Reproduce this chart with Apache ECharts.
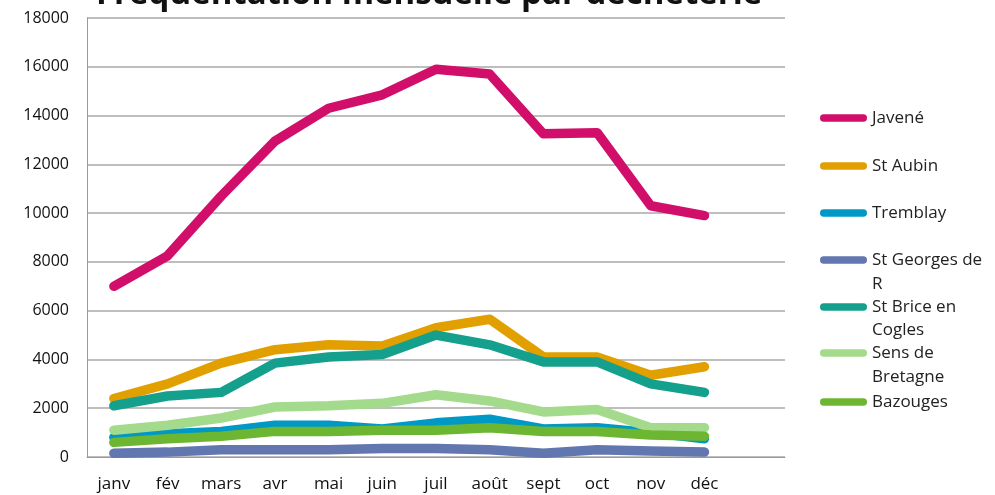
<!DOCTYPE html>
<html lang="fr" style="height: 100%">
<head>
  <meta charset="utf-8">
</head>
<body style="height: 100%; margin: 0; background: #fff">
  <div id="container" style="width: 995px; height: 495px"></div>

  <script type="text/javascript" src="https://cdn.jsdelivr.net/npm/echarts@6/dist/echarts.min.js"></script>
  <script type="text/javascript">
    // months (last empty slot keeps the plot area as wide as the original)
    var months = ['janv', 'fév', 'mars', 'avr', 'mai', 'juin', 'juil', 'août', 'sept', 'oct', 'nov', 'déc', ''];

    var javene     = [7000, 8250, 10700, 12950, 14300, 14850, 15900, 15700, 13250, 13300, 10300, 9900];
    var stAubin    = [2400, 3000, 3850, 4400, 4600, 4550, 5300, 5650, 4100, 4100, 3350, 3700];
    var tremblay   = [800, 950, 1050, 1300, 1300, 1150, 1400, 1550, 1150, 1200, 1000, 750];
    var stGeorges  = [150, 200, 300, 300, 300, 350, 350, 300, 150, 300, 250, 200];
    var stBrice    = [2100, 2500, 2650, 3850, 4100, 4200, 5000, 4600, 3900, 3900, 3000, 2650];
    var sensBret   = [1100, 1300, 1600, 2050, 2100, 2200, 2550, 2300, 1850, 1950, 1200, 1200];
    var bazouges   = [600, 750, 850, 1050, 1050, 1100, 1100, 1200, 1050, 1050, 900, 850];

    var names = ['Javené', 'St Aubin', 'Tremblay', 'St Georges de R', 'St Brice en Cogles', 'Sens de Bretagne', 'Bazouges'];
    var firstLine = ['Javené', 'St Aubin', 'Tremblay', 'St Georges de', 'St Brice en', 'Sens de', 'Bazouges'];
    var secondLine = ['', '', '', 'R', 'Cogles', 'Bretagne', ''];
    var colors = ['#D10F6A', '#E2A000', '#0098C5', '#6276AF', '#14A08C', '#A4DA8C', '#6CB631'];
    var values = [javene, stAubin, tremblay, stGeorges, stBrice, sensBret, bazouges];

    var FONT = '"Open Sans"';
    var legendY = [118, 166, 213, 260, 307, 353, 402];
    var secondY = [0, 0, 0, 284, 330, 377, 0];

    var dom = document.getElementById('container');
    var myChart = echarts.init(dom, null, { renderer: 'canvas' });

    var iconPath = 'path://M4,0 H46 A4,4 0 0 1 46,8 H4 A4,4 0 0 1 4,0 Z';

    var legends = names.map(function (n, i) {
      return {
        data: [n],
        orient: 'vertical',
        left: 820,
        top: legendY[i] - 11,
        padding: 0,
        icon: iconPath,
        itemWidth: 47,
        itemHeight: 8,
        selectedMode: false,
        formatter: function () { return firstLine[i]; },
        textStyle: { fontFamily: FONT, fontSize: 17, color: '#222', lineHeight: 22 }
      };
    });

    var extraTexts = [];
    secondLine.forEach(function (t, i) {
      if (!t) return;
      extraTexts.push({
        type: 'text',
        left: 872,
        top: secondY[i] - 11,
        style: { text: t, font: '17px ' + FONT, fill: '#222', lineHeight: 22 }
      });
    });

    var option = {
      animation: false,
      title: {
        text: 'Fréquentation mensuelle par déchèterie',
        left: 96,
        top: -22,
        padding: 0,
        textStyle: { fontFamily: FONT, fontSize: 33, fontWeight: 'bold', color: '#111' }
      },
      legend: legends,
      graphic: extraTexts,
      grid: { left: 87, right: 210, top: 18, bottom: 38, containLabel: false },
      xAxis: {
        type: 'category',
        data: months,
        boundaryGap: true,
        axisLine: { lineStyle: { color: '#9a9a9a', width: 1 } },
        axisTick: { show: false },
        axisLabel: { fontFamily: FONT, fontSize: 17, color: '#111', margin: 19, interval: 0 }
      },
      yAxis: {
        type: 'value',
        min: 0,
        max: 18000,
        interval: 2000,
        axisLine: { show: true, lineStyle: { color: '#9a9a9a', width: 1 } },
        axisTick: { show: false },
        splitLine: { lineStyle: { color: '#a8a8a8', width: 1.5 } },
        axisLabel: {
          fontFamily: FONT, fontSize: 16, color: '#111', margin: 18,
          formatter: function (v) { return String(v); }
        }
      },
      series: names.map(function (n, i) {
        return {
          name: n,
          type: 'line',
          data: values[i],
          showSymbol: false,
          symbol: 'none',
          color: colors[i],
          lineStyle: { width: 9.5, color: colors[i], cap: 'round', join: 'round' }
        };
      })
    };

    myChart.setOption(option);
    window.addEventListener('resize', myChart.resize);
  </script>
</body>
</html>
